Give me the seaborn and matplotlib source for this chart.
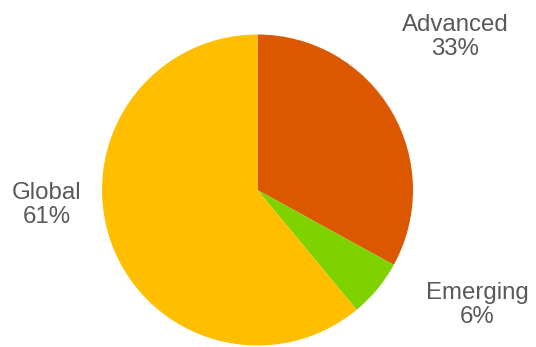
import matplotlib
matplotlib.use("Agg")
import matplotlib.pyplot as plt
import seaborn as sns

# Share of assets by market type
categories = ["Advanced", "Emerging", "Global"]
shares = [33, 6, 61]
colors = ["#DC5800", "#7ED200", "#FFBF00"]

sns.set_theme(style="white")
plt.rcParams["font.family"] = ["Liberation Sans", "DejaVu Sans"]

W, H = 536, 347
fig = plt.figure(figsize=(W / 100, H / 100), dpi=100)
ax = fig.add_axes([0, 0, 1, 1])

ax.pie(shares, colors=colors, startangle=90, counterclock=False,
       center=(257.5, H - 190), radius=155.5,
       wedgeprops=dict(linewidth=0))

ax.set_xlim(0, W)
ax.set_ylim(0, H)
ax.set_aspect("auto")
ax.axis("off")

# label anchor points (last-line baseline, pixel coordinates from top)
label_pos = {"Advanced": (455, 55), "Emerging": (477, 323), "Global": (47, 223)}
for name, val in zip(categories, shares):
    x, y = label_pos[name]
    ax.text(x, H - y, f"{name}\n{val}%", ha="center", va="baseline",
            fontsize=17.3, color="#595959", linespacing=1.13,
            multialignment="center")

fig.savefig("out.png", dpi=100, facecolor="white")
